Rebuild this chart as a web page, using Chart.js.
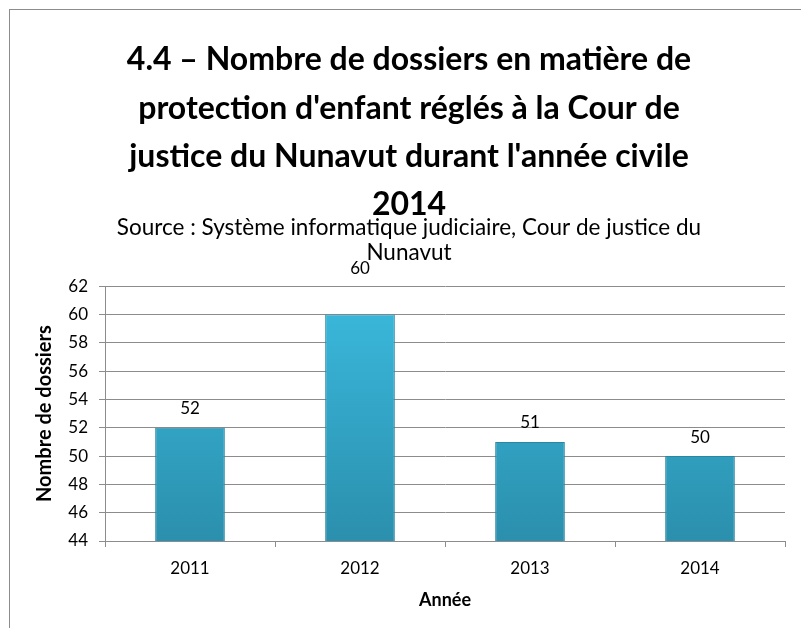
<!DOCTYPE html>
<html>
<head>
<meta charset="utf-8">
<script src="https://cdn.jsdelivr.net/npm/chart.js@4/dist/chart.umd.min.js"></script>
<style>
    html, body { margin: 0; padding: 0; background: #fff; overflow: hidden; }
    #frame {
        position: absolute; left: 9px; top: 9px;
        width: 802px; height: 640px;
        border: 1px solid #8c8c8c;
        box-sizing: border-box;
    }
    #chart { display: block; }
</style>
</head>
<body>
<div id="frame"><canvas id="chart" width="800" height="638"></canvas></div>
<script>
// Data
const years = ['2011', '2012', '2013', '2014'];
const dossiers = [52, 60, 51, 50];
const yMin = 44;
const yMax = 62;
const yStep = 2;

const titleLines = [
    "4.4 – Nombre de dossiers en matière de",
    "protection d'enfant réglés à la Cour de",
    "justice du Nunavut durant l'année civile",
    "2014"
];
const subtitleLines = [
    "Source : Système informatique judiciaire, Cour de justice du",
    "Nunavut"
];

const fontFamily = "Lato, 'Open Sans', sans-serif";

// Bar fill: vertical gradient like the Excel bevel
function barFill(context) {
    const chart = context.chart;
    const area = chart.chartArea;
    if (!area) return '#34a9c9';
    const g = chart.ctx.createLinearGradient(0, area.top, 0, area.bottom);
    g.addColorStop(0, '#3bbbdf');
    g.addColorStop(1, '#2b8fad');
    return g;
}

// Value labels above each bar (the 2012 label sits higher, as in the original)
const valueLabels = {
    id: 'valueLabels',
    afterDatasetsDraw(chart, args, opts) {
        const ctx = chart.ctx;
        const extra = opts.extraLift || {};
        ctx.save();
        ctx.font = "17px " + fontFamily;
        ctx.fillStyle = '#000';
        ctx.textAlign = 'center';
        ctx.textBaseline = 'middle';
        chart.getDatasetMeta(0).data.forEach((bar, i) => {
            ctx.fillText(dossiers[i], bar.x, bar.y - 19 - (extra[i] || 0));
        });
        ctx.restore();
    }
};

const ctx = document.getElementById('chart').getContext('2d');
new Chart(ctx, {
    type: 'bar',
    data: {
        labels: years,
        datasets: [{
            data: dossiers,
            backgroundColor: barFill,
            borderColor: '#2a87a3',
            borderWidth: 1,
            barPercentage: 0.41,
            categoryPercentage: 1
        }]
    },
    options: {
        responsive: false,
        animation: false,
        layout: { padding: { left: 23, right: 25, top: 0, bottom: 37 } },
        plugins: {
            legend: { display: false },
            tooltip: { enabled: false },
            valueLabels: { extraLift: { 1: 27 } },
            title: {
                display: true,
                text: titleLines,
                color: '#000',
                font: { family: fontFamily, size: 32, weight: 'bold', lineHeight: 1.51 },
                padding: { top: 26, bottom: 0 }
            },
            subtitle: {
                display: true,
                text: subtitleLines,
                color: '#000',
                font: { family: fontFamily, size: 22.5, lineHeight: 1.111 },
                padding: { top: -14, bottom: 21 }
            }
        },
        scales: {
            x: {
                afterFit(scale) { scale.height = 70; },
                grid: {
                    display: true,
                    drawOnChartArea: false,
                    tickLength: 6,
                    color: '#8c8c8c'
                },
                border: { color: '#8c8c8c' },
                ticks: { color: '#000', font: { family: fontFamily, size: 17 }, padding: 11 },
                title: {
                    display: true,
                    text: 'Année',
                    color: '#000',
                    font: { family: fontFamily, size: 18, weight: 'bold' },
                    padding: { top: 0, bottom: 0 }
                }
            },
            y: {
                min: yMin,
                max: yMax,
                afterFit(scale) { scale.width = 72; },
                ticks: { stepSize: yStep, color: '#000', font: { family: fontFamily, size: 17 }, padding: 11 },
                grid: { color: '#8c8c8c', tickLength: 6 },
                border: { color: '#8c8c8c' },
                title: {
                    display: true,
                    text: 'Nombre de dossiers',
                    color: '#000',
                    font: { family: fontFamily, size: 20, weight: 'bold' },
                    padding: { top: 0, bottom: 0 }
                }
            }
        }
    },
    plugins: [valueLabels]
});
</script>
</body>
</html>
